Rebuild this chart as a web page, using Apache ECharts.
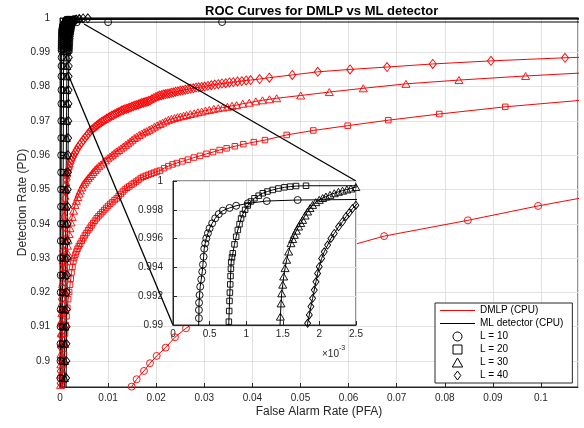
<!DOCTYPE html>
<html><head><meta charset="utf-8">
<script src="https://cdn.jsdelivr.net/npm/echarts@6/dist/echarts.min.js"></script>
<style>html,body{margin:0;padding:0;background:#fff}#c{width:584px;height:428px}</style>
</head><body><div id="c"></div>
<script>
// ---- data: [PFA, PD] ----
const dmlpL10 = [[0.0140,0.8905],[0.01490,0.89251],[0.01594,0.89466],[0.01746,0.89708],[0.01871,0.89933],[0.02010,0.90146],[0.02197,0.90388],[0.02391,0.90691],[0.02620,0.90953],[0.0290,0.9123],[0.0325,0.9155],[0.0370,0.9193],[0.0430,0.9238],[0.0500,0.9283],[0.0580,0.9327],[0.0674,0.9364],[0.0848,0.9410],[0.0994,0.9452],[0.1180,0.9500]];
const dmlpL20 = [[0.00045,0.8900],[0.00050,0.8930],[0.00060,0.8960],[0.00070,0.8990],[0.00080,0.9020],[0.00092,0.9050],[0.00105,0.9080],[0.00120,0.9105],[0.00135,0.9130],[0.00152,0.9155],[0.00170,0.9180],[0.00190,0.9201],[0.00208,0.9222],[0.00224,0.9240],[0.00240,0.9258],[0.00258,0.9274],[0.00277,0.9290],[0.00298,0.9300],[0.00320,0.9310],[0.00342,0.9319],[0.00365,0.9327],[0.00392,0.9335],[0.00420,0.9342],[0.00452,0.9350],[0.00485,0.9358],[0.00517,0.9366],[0.00550,0.9373],[0.00585,0.9381],[0.00620,0.9388],[0.00655,0.9395],[0.00690,0.9402],[0.00727,0.9409],[0.00763,0.9416],[0.00800,0.9422],[0.00840,0.9428],[0.00880,0.9434],[0.00920,0.9440],[0.00960,0.9446],[0.01000,0.9452],[0.01045,0.9458],[0.01090,0.9463],[0.01135,0.9469],[0.01178,0.9474],[0.01220,0.9481],[0.01265,0.9487],[0.01308,0.9494],[0.01351,0.9500],[0.01395,0.9505],[0.01440,0.9509],[0.01488,0.9514],[0.01535,0.9518],[0.01582,0.9523],[0.01632,0.9528],[0.01682,0.9533],[0.01732,0.9537],[0.01785,0.9540],[0.01840,0.9543],[0.01897,0.9546],[0.01955,0.9549],[0.02015,0.9552],[0.02079,0.9555],[0.02165,0.9562],[0.02252,0.9568],[0.02340,0.9573],[0.02430,0.9577],[0.02545,0.9582],[0.02660,0.9587],[0.02785,0.9593],[0.02911,0.9598],[0.03045,0.9604],[0.03180,0.9609],[0.03320,0.9615],[0.03465,0.9620],[0.03635,0.9626],[0.03812,0.9632],[0.04030,0.9638],[0.04262,0.9644],[0.04713,0.9659],[0.05267,0.9672],[0.05981,0.9686],[0.06826,0.9702],[0.07886,0.9720],[0.09258,0.9741],[0.11000,0.9762]];
const dmlpL30 = [[0.00010,0.8900],[0.00012,0.8930],[0.00015,0.8960],[0.00017,0.8990],[0.00020,0.9020],[0.00025,0.9050],[0.00030,0.9080],[0.00035,0.9110],[0.00040,0.9140],[0.00047,0.9170],[0.00055,0.9200],[0.00062,0.9230],[0.00070,0.9260],[0.00085,0.9275],[0.00100,0.9290],[0.00120,0.9305],[0.00139,0.9319],[0.00155,0.9336],[0.00170,0.9352],[0.00190,0.9370],[0.00208,0.9387],[0.00230,0.9404],[0.00255,0.9420],[0.00282,0.9438],[0.00312,0.9455],[0.00340,0.9467],[0.00370,0.9478],[0.00397,0.9488],[0.00425,0.9497],[0.00455,0.9506],[0.00485,0.9515],[0.00517,0.9521],[0.00550,0.9527],[0.00585,0.9533],[0.00620,0.9539],[0.00655,0.9545],[0.00690,0.9551],[0.00727,0.9557],[0.00763,0.9562],[0.00805,0.9568],[0.00850,0.9573],[0.00897,0.9579],[0.00945,0.9585],[0.00992,0.9591],[0.01040,0.9596],[0.01085,0.9601],[0.01130,0.9606],[0.01175,0.9611],[0.01220,0.9615],[0.01268,0.9620],[0.01316,0.9625],[0.01363,0.9630],[0.01410,0.9635],[0.01455,0.9640],[0.01500,0.9645],[0.01547,0.9650],[0.01594,0.9654],[0.01647,0.9659],[0.01700,0.9663],[0.01750,0.9667],[0.01800,0.9670],[0.01853,0.9674],[0.01906,0.9678],[0.01963,0.9683],[0.02020,0.9687],[0.02078,0.9691],[0.02135,0.9695],[0.02193,0.9699],[0.02252,0.9703],[0.02316,0.9706],[0.02380,0.9708],[0.02442,0.9711],[0.02505,0.9713],[0.02570,0.9715],[0.02633,0.9717],[0.02710,0.9720],[0.02790,0.9722],[0.02868,0.9725],[0.02945,0.9727],[0.03025,0.9730],[0.03105,0.9732],[0.03198,0.9735],[0.03290,0.9737],[0.03385,0.9739],[0.03480,0.9741],[0.03577,0.9744],[0.03673,0.9746],[0.03800,0.9750],[0.03935,0.9753],[0.04070,0.9757],[0.04210,0.9760],[0.04355,0.9763],[0.04505,0.9766],[0.05004,0.9774],[0.05599,0.9784],[0.06306,0.9795],[0.07193,0.9808],[0.08295,0.9819],[0.09681,0.9831],[0.11300,0.9843]];
const dmlpL40 = [[0.00010,0.8900],[0.00012,0.8935],[0.00015,0.8970],[0.00018,0.9005],[0.00022,0.9040],[0.00026,0.9075],[0.00030,0.9110],[0.00035,0.9145],[0.00040,0.9180],[0.00046,0.9215],[0.00052,0.9250],[0.00058,0.9285],[0.00065,0.9320],[0.00072,0.9355],[0.00080,0.9390],[0.00089,0.9420],[0.00098,0.9450],[0.00108,0.9473],[0.00118,0.9495],[0.00128,0.9512],[0.00139,0.9528],[0.00152,0.9540],[0.00165,0.9550],[0.00182,0.9560],[0.00200,0.9568],[0.00220,0.9577],[0.00243,0.9586],[0.00265,0.9594],[0.00290,0.9601],[0.00318,0.9608],[0.00346,0.9615],[0.00378,0.9623],[0.00410,0.9630],[0.00447,0.9637],[0.00485,0.9644],[0.00520,0.9651],[0.00555,0.9657],[0.00590,0.9663],[0.00624,0.9669],[0.00658,0.9674],[0.00693,0.9678],[0.00728,0.9682],[0.00763,0.9686],[0.00796,0.9690],[0.00830,0.9693],[0.00865,0.9697],[0.00900,0.9700],[0.00935,0.9703],[0.00970,0.9706],[0.01005,0.9709],[0.01040,0.9712],[0.01075,0.9715],[0.01110,0.9717],[0.01145,0.9720],[0.01180,0.9722],[0.01215,0.9725],[0.01250,0.9727],[0.01283,0.9730],[0.01316,0.9732],[0.01350,0.9734],[0.01385,0.9735],[0.01420,0.9737],[0.01455,0.9739],[0.01490,0.9741],[0.01525,0.9743],[0.01560,0.9745],[0.01594,0.9746],[0.01630,0.9748],[0.01665,0.9750],[0.01700,0.9752],[0.01735,0.9753],[0.01770,0.9755],[0.01805,0.9756],[0.01838,0.9758],[0.01871,0.9759],[0.01910,0.9763],[0.01950,0.9766],[0.01993,0.9769],[0.02037,0.9772],[0.02073,0.9774],[0.02110,0.9775],[0.02150,0.9777],[0.02190,0.9778],[0.02230,0.9779],[0.02270,0.9780],[0.02313,0.9782],[0.02356,0.9783],[0.02403,0.9785],[0.02450,0.9786],[0.02500,0.9788],[0.02551,0.9789],[0.02605,0.9791],[0.02660,0.9792],[0.02716,0.9794],[0.02772,0.9795],[0.02828,0.9797],[0.02885,0.9798],[0.02946,0.9799],[0.03008,0.9800],[0.03075,0.9802],[0.03145,0.9804],[0.03218,0.9806],[0.03292,0.9807],[0.03368,0.9809],[0.03445,0.9810],[0.03523,0.9812],[0.03603,0.9813],[0.03690,0.9815],[0.03780,0.9816],[0.03870,0.9818],[0.03964,0.9819],[0.04150,0.9822],[0.04352,0.9826],[0.04830,0.9834],[0.05360,0.9843],[0.06030,0.9850],[0.06800,0.9857],[0.07750,0.9866],[0.08960,0.9875],[0.10500,0.9884],[0.12500,0.9893]];

const mlL10 = [[0.00008,0.890],[0.00010,0.895],[0.00011,0.900],[0.00012,0.905],[0.00013,0.910],[0.00014,0.915],[0.00015,0.920],[0.00016,0.925],[0.00017,0.930],[0.00018,0.935],[0.00019,0.940],[0.00021,0.945],[0.00022,0.950],[0.00024,0.955],[0.00025,0.960],[0.00027,0.965],[0.00028,0.970],[0.00030,0.975],[0.00031,0.979],[0.00032,0.983],[0.00033,0.986],[0.00034,0.9885],[0.000354,0.99047],[0.000354,0.99104],[0.000356,0.99155],[0.000363,0.99208],[0.000372,0.99266],[0.000386,0.99317],[0.000400,0.99370],[0.000409,0.99420],[0.000418,0.99474],[0.000427,0.99530],[0.000440,0.99567],[0.000455,0.99602],[0.000477,0.99637],[0.000500,0.99671],[0.000535,0.99706],[0.000577,0.99741],[0.000625,0.99770],[0.000681,0.99794],[0.000772,0.99813],[0.000863,0.99828],[0.001022,0.99845],[0.001281,0.99861],[0.001703,0.99868],[0.0035,0.99876],[0.0100,0.99880],[0.0337,0.99882],[0.1300,0.99884]];
const mlL20 = [[0.00040,0.890],[0.00042,0.895],[0.00044,0.900],[0.00046,0.905],[0.00048,0.910],[0.00050,0.915],[0.00052,0.920],[0.00054,0.925],[0.00056,0.930],[0.00058,0.935],[0.00060,0.940],[0.00062,0.945],[0.00064,0.950],[0.00066,0.955],[0.00067,0.960],[0.00069,0.965],[0.00070,0.970],[0.00072,0.975],[0.00073,0.979],[0.00074,0.983],[0.00075,0.986],[0.00076,0.9885],[0.000763,0.99023],[0.000768,0.99097],[0.000772,0.99167],[0.000777,0.99225],[0.000782,0.99282],[0.000786,0.99340],[0.000791,0.99391],[0.000795,0.99437],[0.000806,0.99470],[0.000817,0.99498],[0.000840,0.99560],[0.000863,0.99613],[0.000886,0.99660],[0.000909,0.99700],[0.000930,0.99740],[0.000954,0.99770],[0.000985,0.99800],[0.001022,0.99830],[0.001065,0.99858],[0.001113,0.99880],[0.001170,0.99898],[0.001226,0.99915],[0.001290,0.99927],[0.001362,0.99938],[0.001440,0.99948],[0.001522,0.99956],[0.001600,0.99961],[0.001681,0.99965],[0.001817,0.99967],[0.1300,0.99970]];
const mlL30 = [[0.00090,0.890],[0.00093,0.895],[0.00096,0.900],[0.00099,0.905],[0.00102,0.910],[0.00105,0.915],[0.00108,0.920],[0.00111,0.925],[0.00114,0.930],[0.00117,0.935],[0.00120,0.940],[0.00123,0.945],[0.00126,0.950],[0.00129,0.955],[0.00131,0.960],[0.00134,0.965],[0.00136,0.970],[0.00139,0.975],[0.00141,0.979],[0.00143,0.983],[0.00144,0.986],[0.00145,0.9885],[0.001467,0.99058],[0.001476,0.99150],[0.001485,0.99220],[0.001499,0.99280],[0.001512,0.99337],[0.001531,0.99395],[0.001553,0.99453],[0.001580,0.99510],[0.001612,0.99568],[0.001635,0.99597],[0.001657,0.99626],[0.001686,0.99655],[0.001716,0.99684],[0.001745,0.99708],[0.001771,0.99730],[0.001805,0.99760],[0.001839,0.99788],[0.001872,0.99812],[0.001907,0.99834],[0.001950,0.99853],[0.001998,0.99869],[0.002045,0.99882],[0.002089,0.99892],[0.002145,0.99904],[0.002203,0.99915],[0.002260,0.99925],[0.002316,0.99933],[0.002375,0.99941],[0.002430,0.99948],[0.002498,0.99958],[0.00265,0.99968],[0.0029,0.99978],[0.0033,0.99986],[0.0040,0.99992],[0.1300,0.99996]];
const mlL40 = [[0.00125,0.890],[0.00128,0.895],[0.00131,0.900],[0.00134,0.905],[0.00137,0.910],[0.00140,0.915],[0.00143,0.920],[0.00146,0.925],[0.00149,0.930],[0.00152,0.935],[0.00155,0.940],[0.00158,0.945],[0.00161,0.950],[0.00164,0.955],[0.00167,0.960],[0.00170,0.965],[0.00173,0.970],[0.00176,0.975],[0.00178,0.979],[0.00180,0.983],[0.00182,0.986],[0.00183,0.9885],[0.001839,0.99012],[0.001862,0.99070],[0.001884,0.99128],[0.001907,0.99185],[0.001930,0.99243],[0.001953,0.99300],[0.001975,0.99358],[0.001998,0.99405],[0.002030,0.99462],[0.002066,0.99508],[0.002112,0.99555],[0.002157,0.99601],[0.002203,0.99636],[0.002262,0.99682],[0.002316,0.99717],[0.002362,0.99752],[0.002407,0.99779],[0.002452,0.99809],[0.002498,0.99832],[0.00255,0.99855],[0.0027,0.99895],[0.0030,0.99930],[0.0034,0.99955],[0.0040,0.99975],[0.0048,0.99986],[0.0058,0.99992],[0.1300,0.99997]];

const zoomLineTop = [[0.0050,0.99825],[0.06154,0.95248]];
const zoomLineBottom = [[0.00173,0.98338],[0.02349,0.91050]];

const mainYTicks = [0.9,0.91,0.92,0.93,0.94,0.95,0.96,0.97,0.98,0.99,1];
const legendNames = ['DMLP (CPU)','ML detector (CPU)','L = 10','L = 20','L = 30','L = 40'];
const titleText = 'ROC Curves for DMLP vs ML detector';

// ---- chart ----
const FONT = "'Liberation Sans', Arial, Helvetica, sans-serif";
const AX = '#262626', GRID = '#e2e2e2', RED = '#ff0000', BLK = '#000000';
const fmt = v => String(+(+v).toFixed(4));

function curve(name, data, color, symbol, size, idx, z) {
  return {
    name, type: 'line', data, xAxisIndex: idx, yAxisIndex: idx,
    symbol, symbolSize: size, showSymbol: true, showAllSymbol: true,
    lineStyle: { color, width: 1 },
    itemStyle: { color: 'rgba(255,255,255,0)', borderColor: color, borderWidth: 0.9 },
    z, silent: true, animation: false, clip: true,
    emphasis: { disabled: true }
  };
}
const series = [
  curve('dmlp10', dmlpL10, RED, 'circle', 7, 0, 2),
  curve('dmlp20', dmlpL20, RED, 'rect', 5.5, 0, 2),
  curve('dmlp30', dmlpL30, RED, 'triangle', [8, 7], 0, 2),
  curve('dmlp40', dmlpL40, RED, 'diamond', [7, 9], 0, 2),
  curve('ml10', mlL10, BLK, 'circle', 7, 0, 2),
  curve('ml20', mlL20, BLK, 'rect', 5.5, 0, 2),
  curve('ml30', mlL30, BLK, 'triangle', [8, 7], 0, 2),
  curve('ml40', mlL40, BLK, 'diamond', [7, 9], 0, 2),
  curve('ml10i', mlL10, BLK, 'circle', 7, 1, 8),
  curve('ml20i', mlL20, BLK, 'rect', 5.5, 1, 8),
  curve('ml30i', mlL30, BLK, 'triangle', [8, 7], 1, 8),
  curve('ml40i', mlL40, BLK, 'diamond', [6, 8], 1, 8),
  { name: 'zoomTop', type: 'line', data: zoomLineTop, symbol: 'none', lineStyle: { color: BLK, width: 1.3 }, z: 3, silent: true, clip: false },
  { name: 'zoomBottom', type: 'line', data: zoomLineBottom, symbol: 'none', lineStyle: { color: BLK, width: 1.3 }, z: 3, silent: true, clip: false }
];
legendNames.forEach(n => series.push({ name: n, type: 'line', data: [], xAxisIndex: 0, yAxisIndex: 0 }));

const hollow = { color: '#ffffff', borderColor: BLK, borderWidth: 1 };
const legendData = [
  { name: legendNames[0], icon: 'path://M0,0L35,0L35,1.2L0,1.2Z', itemStyle: { color: RED, borderWidth: 0 } },
  { name: legendNames[1], icon: 'path://M0,0L35,0L35,1.2L0,1.2Z', itemStyle: { color: BLK, borderWidth: 0 } },
  { name: legendNames[2], icon: 'circle', itemStyle: hollow },
  { name: legendNames[3], icon: 'path://M0,0L8,0L8,8L0,8Z', itemStyle: hollow },
  { name: legendNames[4], icon: 'path://M5,0L10,8.66L0,8.66Z', itemStyle: hollow },
  { name: legendNames[5], icon: 'path://M4,0L8,5.5L4,11L0,5.5Z', itemStyle: hollow }
];

const axisBase = (extra) => Object.assign({
  type: 'value',
  axisLine: { show: true, onZero: false, lineStyle: { color: AX, width: 1 } },
  axisTick: { show: true, inside: true, length: 4, lineStyle: { color: AX } },
  splitLine: { show: true, lineStyle: { color: GRID, width: 1 } },
  axisLabel: { color: AX, fontSize: 10, fontFamily: FONT, formatter: fmt },
  nameTextStyle: { color: AX, fontSize: 12, fontFamily: FONT },
  nameMoveOverlap: false
}, extra);

const option = {
  animation: false,
  backgroundColor: '#ffffff',
  title: { text: titleText, left: 200, top: 0, textStyle: { fontFamily: FONT, fontSize: 13, fontWeight: 'bold', color: '#000' } },
  grid: [
    { left: 60, top: 18, width: 518, height: 369, show: true, backgroundColor: 'transparent', borderColor: AX, borderWidth: 1, z: 0 },
    { left: 173, top: 181, width: 183, height: 144, show: true, backgroundColor: '#ffffff', borderColor: AX, borderWidth: 1, z: 5 }
  ],
  xAxis: [
    axisBase({ gridIndex: 0, min: 0, max: 0.1077, interval: 0.01,
      axisLabel: { color: AX, fontSize: 10, fontFamily: FONT, formatter: fmt, margin: 6, showMaxLabel: false },
      name: 'False Alarm Rate (PFA)', nameLocation: 'middle', nameGap: 19 }),
    axisBase({ gridIndex: 1, min: 0, max: 0.0025, interval: 0.0005, z: 6,
      axisLabel: { color: AX, fontSize: 10, fontFamily: FONT, margin: 4, formatter: v => String(+(v * 1000).toFixed(2)) } })
  ],
  yAxis: [
    axisBase({ gridIndex: 0, min: 0.8924, max: 1,
      axisTick: { show: true, inside: true, length: 4, lineStyle: { color: AX }, customValues: mainYTicks },
      axisLabel: { color: AX, fontSize: 10, fontFamily: FONT, formatter: fmt, margin: 10, customValues: mainYTicks },
      name: 'Detection Rate (PD)', nameLocation: 'middle', nameGap: 31 }),
    axisBase({ gridIndex: 1, min: 0.99, max: 1, interval: 0.002, z: 6,
      axisLabel: { color: AX, fontSize: 10, fontFamily: FONT, formatter: fmt, margin: 10 } })
  ],
  legend: {
    orient: 'vertical', left: 435, top: 303, padding: [2, 9, 2, 5], itemGap: 2, itemWidth: 35, itemHeight: 9,
    backgroundColor: '#ffffff', borderColor: AX, borderWidth: 1, selectedMode: false, z: 20,
    textStyle: { fontFamily: FONT, fontSize: 10, color: '#000', lineHeight: 11 },
    data: legendData
  },
  graphic: [{
    type: 'text', left: 322, top: 345, z: 20,
    style: { text: '{a|×10}{b|-3}', rich: {
      a: { fontFamily: FONT, fontSize: 10, fill: AX, verticalAlign: 'bottom', padding: [4, 0, 0, 0] },
      b: { fontFamily: FONT, fontSize: 7, fill: AX, verticalAlign: 'top' } } }
  }],
  series
};
const chart = echarts.init(document.getElementById('c'), null, { renderer: 'canvas' });
chart.setOption(option);
</script></body></html>
